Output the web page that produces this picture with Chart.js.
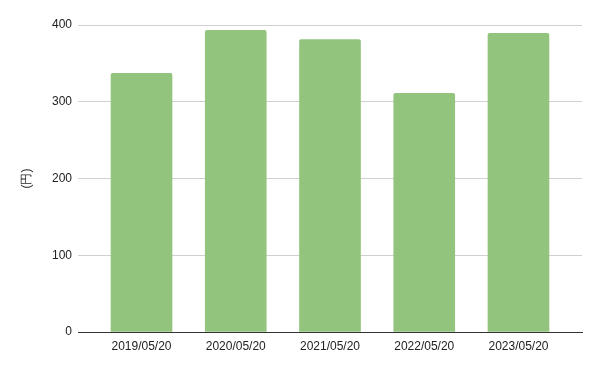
<!DOCTYPE html>
<html>
<head>
<meta charset="utf-8">
<script src="https://cdn.jsdelivr.net/npm/chart.js@4"></script>
<style>
  html, body { margin: 0; padding: 0; background: #fff; }
  canvas { display: block; }
</style>
</head>
<body>
<canvas id="chart" width="600" height="371"></canvas>
<script>
// data
const dates = ['2019/05/20', '2020/05/20', '2021/05/20', '2022/05/20', '2023/05/20'];
const prices = [337, 393, 381, 311, 389];
const yTicks = [0, 100, 200, 300, 400];

const points = prices.map((v, i) => ({ x: i, y: v }));

Chart.defaults.font.family = '"Liberation Sans", Arial, sans-serif';
Chart.defaults.font.size = 12;
Chart.defaults.color = '#222';

new Chart(document.getElementById('chart'), {
    type: 'bar',
    data: {
        datasets: [{
            data: points,
            backgroundColor: '#93c47d',
            borderRadius: { topLeft: 2, topRight: 2 },
            borderSkipped: 'bottom',
            barThickness: 61
        }]
    },
    options: {
        responsive: false,
        animation: false,
        layout: { padding: { top: 25, right: 18, left: 0, bottom: 0 } },
        plugins: { legend: { display: false }, tooltip: { enabled: false } },
        scales: {
            x: {
                type: 'linear',
                offset: false,
                min: -0.674,
                max: dates.length - 1 + 0.674,
                grid: { display: false, drawTicks: false, offset: false },
                border: { display: true, color: '#333', width: 1 },
                ticks: {
                    stepSize: 1,
                    includeBounds: false,
                    autoSkip: false,
                    maxRotation: 0,
                    padding: 7,
                    callback: v => dates[v] ?? ''
                },
                afterFit: s => { s.height = 39; }
            },
            y: {
                min: yTicks[0],
                max: yTicks[yTicks.length - 1],
                grid: { color: '#d0d0d0', drawTicks: false },
                border: { display: false },
                ticks: { stepSize: 100, padding: 6 },
                title: { display: true, text: '(円)', padding: { top: 19, bottom: 0 }, font: { size: 12 } },
                afterFit: s => { s.width = 78; }
            }
        }
    }
});
</script>
</body>
</html>
